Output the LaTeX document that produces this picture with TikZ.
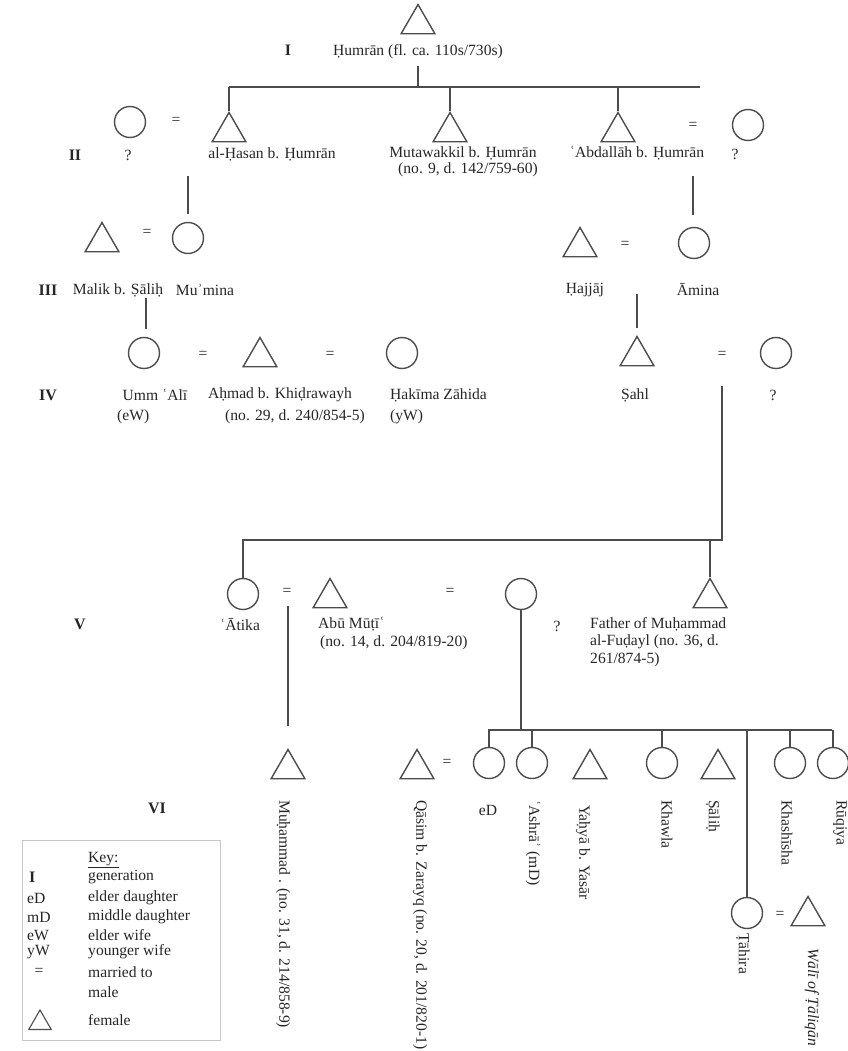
\documentclass[tikz,border=0pt]{standalone}
\usepackage{fontspec}
\setmainfont{Liberation Serif}
\usetikzlibrary{shapes.geometric}
\begin{document}
\begin{tikzpicture}[x=1pt,y=-1pt,
  lw/.style={line width=1.4pt, draw=black!70},
  male/.style={regular polygon, regular polygon sides=3, minimum size=39pt, inner sep=0pt, draw=black!70, line width=1.4pt},
  female/.style={circle, minimum size=31pt, inner sep=0pt, draw=black!70, line width=1.4pt},
  lbl/.style={font=\fontsize{15.6}{17}\selectfont, inner sep=0pt, text=black!85},
  gen/.style={font=\fontsize{16}{17}\selectfont\bfseries, inner sep=0pt, text=black!85},
  vlbl/.style={lbl, rotate=-90, anchor=west}]
\useasboundingbox (0,0) rectangle (847,1051);
% ---------- Generation I
\node[male] (hum) at (418,24) {};
\node[lbl] (humname) at (418,52) {Ḥumrān (fl. ca. 110s/730s)};
\node[gen] (gI) at (288,50) {I};
\coordinate (humdrop) at (418,66);
\coordinate (barIa) at (229,87);
\coordinate (barIb) at (700,87);
% ---------- Generation II
\node[female] (wII1) at (130,122) {};
\node[lbl] (qII1) at (128,155) {?};
\node[lbl] (eqII1) at (176,121) {=};
\node[male] (hasan) at (229,132) {};
\node[lbl] (hasanname) at (272,154) {al-Ḥasan b. Ḥumrān};
\node[male] (mutaw) at (450,132) {};
\node[lbl] (mutawname) at (463,153) {Mutawakkil b. Ḥumrān};
\node[lbl] (mutawinfo) at (468,170) {(no. 9, d. 142/759-60)};
\node[male] (abd) at (618,132) {};
\node[lbl] (abdname) at (637,153) {ʿAbdallāh b. Ḥumrān};
\node[lbl] (eqII2) at (693,126) {=};
\node[female] (wII2) at (748,125) {};
\node[lbl] (qII2) at (735,154) {?};
\node[gen] (gII) at (75,155) {II};
\coordinate (mII1) at (188,176);
\coordinate (mII2) at (693,176);
% ---------- Generation III
\node[male] (malik) at (102,242) {};
\node[lbl] (eqIII1) at (147,233) {=};
\node[female] (mumina) at (188,238) {};
\node[lbl] (malikname) at (118,290) {Malik b. Ṣāliḥ};
\node[lbl] (muminaname) at (205,290) {Muʾmina};
\node[gen] (gIII) at (48,290) {III};
\node[male] (hajjaj) at (580,247) {};
\node[lbl] (eqIII2) at (625,245) {=};
\node[female] (amina) at (694,243) {};
\node[lbl] (hajjajname) at (585,290) {Ḥajjāj};
\node[lbl] (aminaname) at (698,290) {Āmina};
\coordinate (mIII1) at (146,298);
\coordinate (mIII2) at (637,294);
% ---------- Generation IV
\node[female] (ummali) at (144,353) {};
\node[lbl] (eqIV1) at (203,355) {=};
\node[male] (ahmad) at (260,357) {};
\node[lbl] (eqIV2) at (330,355) {=};
\node[female] (hakima) at (402,353) {};
\node[male] (sahl) at (637,356) {};
\node[lbl] (eqIV3) at (722,355) {=};
\node[female] (wIV) at (776,353) {};
\node[lbl] (ummaliname) at (155,395) {Umm ʿAlī};
\node[lbl, anchor=west] (ummalitag) at (117,417) {(eW)};
\node[lbl] (ahmadname) at (280,395) {Aḥmad b. Khiḍrawayh};
\node[lbl] (ahmadinfo) at (295,417) {(no. 29, d. 240/854-5)};
\node[lbl, anchor=west] (hakimaname) at (390,395) {Ḥakīma Zāhida};
\node[lbl, anchor=west] (hakimatag) at (390,417) {(yW)};
\node[lbl] (sahlname) at (635,395) {Ṣahl};
\node[lbl] (qIV) at (773,395) {?};
\node[gen] (gIV) at (48,395) {IV};
\coordinate (mIV) at (722,386);
\coordinate (barVr) at (722,540);
\coordinate (barVl) at (243,540);
% ---------- Generation V
\node[female] (atika) at (243,594) {};
\node[lbl] (eqV1) at (287,592) {=};
\node[male] (abumuti) at (330,598) {};
\node[lbl] (eqV2) at (450,592) {=};
\node[female] (wV) at (521,594) {};
\node[male] (father) at (710,598) {};
\node[lbl] (atikaname) at (240,625) {ʿĀtika};
\node[lbl, anchor=west] (abuname) at (318,624) {Abū Mūṭīʿ};
\node[lbl, anchor=west] (abuinfo) at (320,643) {(no. 14, d. 204/819-20)};
\node[lbl] (qV) at (557,626) {?};
\node[lbl, anchor=west] (fa1) at (590,624) {Father of Muḥammad};
\node[lbl, anchor=west] (fa2) at (590,642) {al-Fuḍayl (no. 36, d.};
\node[lbl, anchor=west] (fa3) at (590,660) {261/874-5)};
\node[gen] (gV) at (80,624) {V};
\coordinate (mV1) at (288,606);
\coordinate (barVIl) at (488,730);
\coordinate (barVIr) at (832,730);
% ---------- Generation VI
\node[male] (muhammad) at (288,769) {};
\node[male] (qasim) at (417,769) {};
\node[lbl] (eqVI1) at (447,763) {=};
\node[female] (ed) at (489,763) {};
\node[female] (ashra) at (532,763) {};
\node[male] (yahya) at (590,769) {};
\node[female] (khawla) at (662,763) {};
\node[male] (salih) at (718,769) {};
\node[female] (khashisha) at (790,763) {};
\node[female] (ruqiya) at (833,763) {};
\node[female] (tahira) at (747,913) {};
\node[lbl] (eqVI2) at (780,915) {=};
\node[male] (wali) at (808,916) {};
\node[gen] (gVI) at (157,808) {VI};
\node[vlbl] (muhammadname) at (283,800) {Muḥammad . (no. 31, d. 214/858-9)};
\node[vlbl] (qasimname) at (420,800) {Qāsim b. Zarayq (no. 20, d. 201/820-1)};
\node[lbl] (edname) at (488,810) {eD};
\node[vlbl] (ashraname) at (533,800) {ʿAshrāʾ (mD)};
\node[vlbl] (yahyaname) at (583,805) {Yaḥyā b. Yasār};
\node[vlbl] (khawlaname) at (667,800) {Khawla};
\node[vlbl] (salihname) at (713,800) {Ṣāliḥ};
\node[vlbl] (khashishaname) at (787,800) {Khashīsha};
\node[vlbl] (ruqiyaname) at (840,800) {Rūqiya};
\node[vlbl] (tahiraname) at (743,933) {Ṭāhira};
\node[vlbl, font=\fontsize{15.6}{17}\selectfont\itshape] (waliname) at (812,948) {Wālī of Ṭāliqān};
% ---------- Key
\node[draw=black!22, line width=0.8pt, anchor=north west, minimum width=198pt, minimum height=200pt, inner sep=0pt] (keybox) at (22,840) {};
\node[lbl, anchor=west] (keyt) at (88,860) {\underline{Key:}};
\node[gen, anchor=west] (k1a) at (29,877) {I};
\node[lbl, anchor=west] (k1b) at (88,877) {generation};
\node[lbl, anchor=west] (k2a) at (27,898) {eD};
\node[lbl, anchor=west] (k2b) at (88,898) {elder daughter};
\node[lbl, anchor=west] (k3a) at (27,917) {mD};
\node[lbl, anchor=west] (k3b) at (88,917) {middle daughter};
\node[lbl, anchor=west] (k4a) at (27,935) {eW};
\node[lbl, anchor=west] (k4b) at (88,935) {elder wife};
\node[lbl, anchor=west] (k5a) at (27,952) {yW};
\node[lbl, anchor=west] (k5b) at (88,952) {younger wife};
\node[lbl] (k6a) at (39,972) {=};
\node[lbl, anchor=west] (k6b) at (88,972) {married to};
\node[lbl, anchor=west] (k7b) at (88,992) {male};
\node[male, minimum size=26pt, line width=1.1pt] (k8a) at (40,1023) {};
\node[lbl, anchor=west] (k8b) at (88,1020) {female};
% ---------- Connectors
\draw[lw] (humdrop) -- (humdrop |- barIa);
\draw[lw] (barIa) -- (barIb);
\draw[lw] (hasan.north |- barIa) -- (hasan.north);
\draw[lw] (mutaw.north |- barIa) -- (mutaw.north);
\draw[lw] (abd.north |- barIa) -- (abd.north);
\draw[lw, shorten >=8pt] (mII1) -- (mII1 |- mumina.north);
\draw[lw, shorten >=12pt] (mII2) -- (mII2 |- amina.north);
\draw[lw, shorten >=8pt] (mIII1) -- (mIII1 |- ummali.north);
\draw[lw, shorten >=7pt] (mIII2) -- (mIII2 |- sahl.north);
\draw[lw] (mIV) -- (barVr) -- (barVl) -- (atika.north);
\draw[lw] (father.north |- barVr) -- (father.north);
\draw[lw, shorten >=22pt] (mV1) -- (mV1 |- muhammad.north);
\draw[lw] (wV.south) -- (wV.south |- barVIl);
\draw[lw] (barVIl) -- (barVIr);
\draw[lw] (ed.north |- barVIl) -- (ed.north);
\draw[lw] (ashra.north |- barVIl) -- (ashra.north);
\draw[lw] (khawla.north |- barVIl) -- (khawla.north);
\draw[lw] (khashisha.north |- barVIl) -- (khashisha.north);
\draw[lw] (ruqiya.north |- barVIl) -- (ruqiya.north);
\draw[lw] (tahira.north |- barVIl) -- (tahira.north);
\end{tikzpicture}
\end{document}
